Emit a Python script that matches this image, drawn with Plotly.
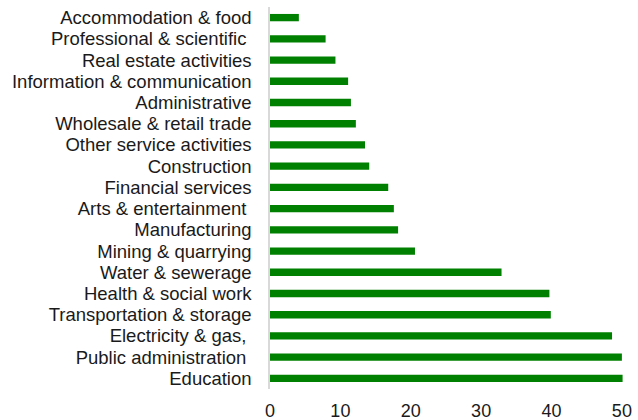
import plotly.graph_objects as go

# Sectors listed top to bottom as displayed
sectors = [
    "Accommodation & food",
    "Professional & scientific\u00a0",
    "Real estate activities",
    "Information & communication",
    "Administrative",
    "Wholesale & retail trade",
    "Other service activities",
    "Construction",
    "Financial services",
    "Arts & entertainment\u00a0",
    "Manufacturing",
    "Mining & quarrying",
    "Water & sewerage",
    "Health & social work",
    "Transportation & storage",
    "Electricity & gas,\u00a0",
    "Public administration\u00a0",
    "Education",
]
values = [4.1, 7.9, 9.3, 11.1, 11.5, 12.2, 13.5, 14.1, 16.8, 17.6,
          18.2, 20.6, 32.9, 39.7, 39.9, 48.6, 50.0, 50.1]
x_ticks = [0, 10, 20, 30, 40, 50]

fig = go.Figure(
    go.Bar(
        x=values,
        y=sectors,
        orientation="h",
        marker=dict(color="#008000", line=dict(width=0)),
    )
)

fig.update_layout(
    width=638,
    height=420,
    margin=dict(l=270, r=14, t=7, b=31),
    paper_bgcolor="white",
    plot_bgcolor="white",
    bargap=0.655,
    showlegend=False,
    font=dict(family="Liberation Sans, Arial, sans-serif", size=18, color="#1a1a1a"),
)

fig.update_xaxes(
    range=[0, 50.3],
    tickvals=x_ticks,
    showgrid=False,
    zeroline=False,
    showline=False,
    ticks="outside",
    ticklen=5,
    tickcolor="rgba(0,0,0,0)",
    tickfont=dict(size=18),
    automargin=False,
)

fig.update_yaxes(
    autorange="reversed",
    tickmode="array",
    tickvals=sectors,
    ticktext=sectors,
    showgrid=False,
    zeroline=False,
    showline=True,
    linecolor="#d9d9d9",
    linewidth=1.5,
    ticks="",
    ticklabelstandoff=13,
    tickfont=dict(size=18.5),
    automargin=False,
)

fig.write_html("out.html")
